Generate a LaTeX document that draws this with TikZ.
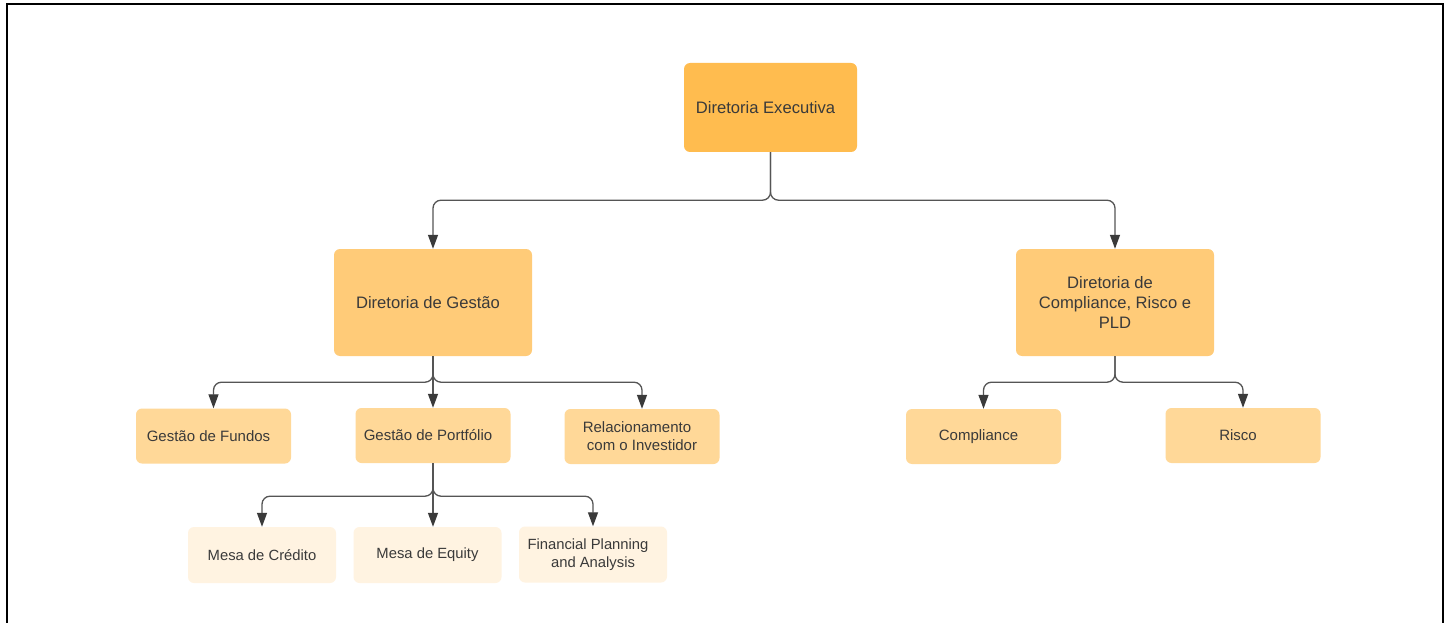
\documentclass[tikz,border=0pt]{standalone}
\usepackage{fontspec}
\setmainfont{Liberation Sans}
\usepackage{xcolor}
\usetikzlibrary{arrows.meta}

\definecolor{orangeA}{HTML}{FFBC4F}
\definecolor{orangeB}{HTML}{FFCB78}
\definecolor{orangeC}{HTML}{FFD898}
\definecolor{orangeD}{HTML}{FFF3E1}
\definecolor{txtgray}{HTML}{3A3A3A}
\definecolor{linegray}{HTML}{555555}

% trailing pad: pushes a centred line a little to the left
\newcommand{\rpad}{\hspace*{10pt}}

\begin{document}
\begin{tikzpicture}[x=1pt, y=-1pt]

    % Custom styles for the boxes and connectors
    \tikzstyle{box} = [rounded corners=6pt, text=txtgray, align=center, inner sep=0pt]
    \tikzstyle{exec} = [box, fill=orangeA, minimum width=173pt, minimum height=89pt, font=\fontsize{16.6}{20}\selectfont]
    \tikzstyle{dir} = [box, fill=orangeB, minimum width=198pt, minimum height=107pt, font=\fontsize{16.6}{20}\selectfont]
    \tikzstyle{area} = [box, fill=orangeC, minimum width=155pt, minimum height=55pt, font=\fontsize{15}{18}\selectfont]
    \tikzstyle{desk} = [box, fill=orangeD, minimum width=148pt, minimum height=56pt, font=\fontsize{14.8}{18}\selectfont]
    \tikzstyle{conn} = [draw=linegray, line width=1.3pt, rounded corners=8pt, -{Triangle[length=14pt, width=10pt, color=txtgray]}]

    % Page and frame
    \useasboundingbox[fill=white] (0,0) rectangle (1451,623);
    \draw[line width=2.3pt] (6.7,623) -- (6.7,4) -- (1443,4) -- (1443,623);

    % Define nodes
    \node[exec] (executiva) at (770.5,107.5) {Diretoria Executiva\rpad};
    \node[dir] (gestao) at (433,302.5) {Diretoria de Gestão\rpad};
    \node[dir] (compliancedir) at (1115,302.5) {Diretoria de\rpad\\Compliance, Risco e\\PLD};
    \node[area] (fundos) at (213.5,436) {Gestão de Fundos\rpad};
    \node[area] (portfolio) at (433,435.5) {Gestão de Portfólio\rpad};
    \node[area] (investidor) at (642,436.5) {Relacionamento\rpad\\com o Investidor};
    \node[area] (compliance) at (983.5,436.5) {Compliance\rpad};
    \node[area] (risco) at (1243,435.5) {Risco\rpad};
    \node[desk] (credito) at (262,555) {Mesa de Crédito};
    \node[desk] (equity) at (427.5,555) {Mesa de Equity};
    \node[desk] (fpa) at (593,554.5) {Financial Planning\rpad\\and Analysis};

    % Connect nodes
    \draw[conn] (executiva.south) -- ++(0,48) -| (gestao.north);
    \draw[conn] (executiva.south) -- ++(0,48) -| (compliancedir.north);
    \draw[conn] (gestao.south) -- ++(0,26) -| (fundos.north);
    \draw[conn] (gestao.south) -- (portfolio.north);
    \draw[conn] (gestao.south) -- ++(0,26) -| (investidor.north);
    \draw[conn] (portfolio.south) -- ++(0,33) -| (credito.north);
    \draw[conn] (portfolio.south) -- (portfolio.south |- equity.north);
    \draw[conn] (portfolio.south) -- ++(0,33) -| (fpa.north);
    \draw[conn] (compliancedir.south) -- ++(0,26) -| (compliance.north);
    \draw[conn] (compliancedir.south) -- ++(0,26) -| (risco.north);

\end{tikzpicture}
\end{document}
